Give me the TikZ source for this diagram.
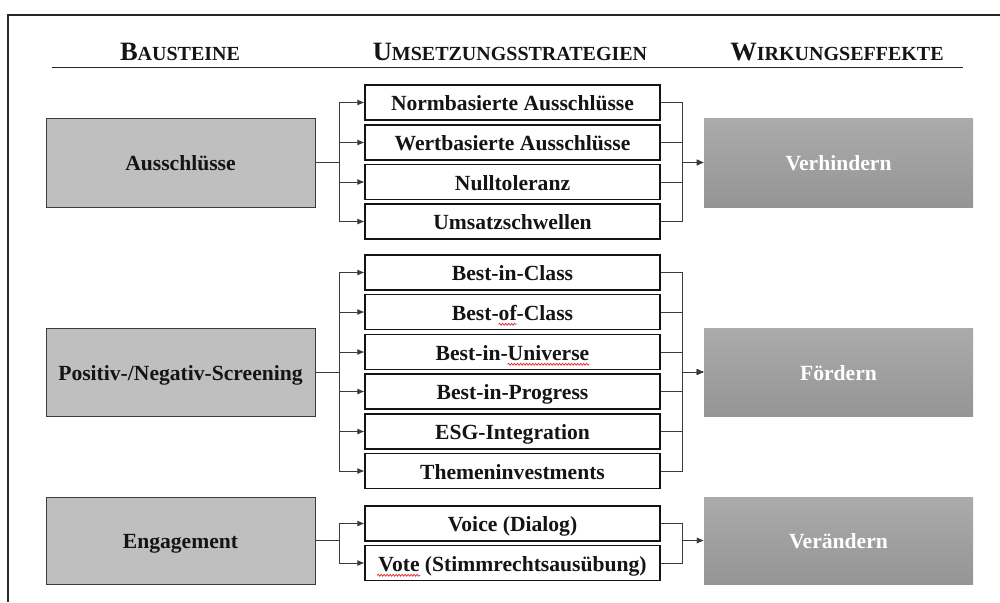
\documentclass[tikz,border=0pt]{standalone}
\usepackage{fontspec}
\setmainfont{Liberation Serif}
\usetikzlibrary{arrows.meta,calc,decorations.pathmorphing}
\definecolor{spellred}{HTML}{DD3333}
\definecolor{txt}{HTML}{141414}
\definecolor{lfill}{HTML}{BFBFBF}
\definecolor{ldraw}{HTML}{3C3C3C}
\definecolor{rtop}{HTML}{ABABAB}
\definecolor{rbot}{HTML}{959595}
\definecolor{conncol}{HTML}{3A3A3A}
\newcommand{\hdr}[2]{{\fontsize{26.5}{28}\selectfont #1}{\fontsize{20}{22}\selectfont #2}}
\newcommand{\itemfont}{\bfseries\fontsize{21.6}{24}\selectfont}
\tikzset{
  basefont/.style={font=\itemfont,text height=16.5pt,text depth=0pt},
  hdrnode/.style={anchor=base,inner sep=0pt,text=txt,font=\bfseries},
  lbox/.style={basefont,draw=ldraw,line width=1pt,fill=lfill,minimum width=269pt,minimum height=89pt,inner sep=0pt,text=txt},
  rbox/.style={basefont,top color=rtop,bottom color=rbot,draw=none,minimum width=269pt,minimum height=89pt,inner sep=0pt,text=white},
  ibox/.style={basefont,draw=txt,line width=1.1pt,fill=white,minimum width=295pt,minimum height=35pt,inner sep=0pt,text=txt},
  conn/.style={draw=conncol,line width=0.9pt},
  arr/.style={conn,-{Latex[length=7pt,width=6pt]}},
  frame/.style={draw=black!85,line width=1.8pt},
  squig/.style={draw=spellred,line width=0.8pt,decorate,decoration={snake,segment length=3pt,amplitude=0.9pt}},
}
\begin{document}
\begin{tikzpicture}[x=1pt,y=-1pt]
\useasboundingbox (0,0) rectangle (1000,602);
% frame
\draw[frame] (8,602) -- (8,15) -- (1000,15);
% headers
\node[hdrnode] (h1) at (180,60) {\hdr{B}{AUSTEINE}};
\node[hdrnode] (h2) at (510,60) {\hdr{U}{MSETZUNGSSTRATEGIEN}};
\node[hdrnode] (h3) at (837,60) {\hdr{W}{IRKUNGSEFFEKTE}};
\draw[draw=black!85,line width=1pt] (52,67) -- (963,67);
% left boxes
\node[lbox] (L1) at (180.5,162.5) {Ausschlüsse};
\node[lbox,minimum height=88pt] (L2) at (180.5,372) {Positiv-/Negativ-Screening};
\node[lbox,minimum height=87pt] (L3) at (180.5,540.5) {Engagement};
% right boxes
\node[rbox] (R1) at (838.5,162.5) {Verhindern};
\node[rbox,minimum height=88pt] (R2) at (838.5,372) {Fördern};
\node[rbox,minimum height=87pt] (R3) at (838.5,540.5) {Verändern};
% items group 1
\node[ibox] (A1) at (512.5,102.5) {Normbasierte Ausschlüsse};
\node[ibox] (A2) at (512.5,142.5) {Wertbasierte Ausschlüsse};
\node[ibox] (A3) at (512.5,182) {Nulltoleranz};
\node[ibox] (A4) at (512.5,221.5) {Umsatzschwellen};
% items group 2
\node[ibox] (B1) at (512.5,272.5) {Best-in-Class};
\node[ibox] (B2) at (512.5,312) {Best-of-Class};
\node[ibox] (B3) at (512.5,352) {Best-in-Universe};
\node[ibox] (B4) at (512.5,391.5) {Best-in-Progress};
\node[ibox] (B5) at (512.5,431.5) {ESG-Integration};
\node[ibox] (B6) at (512.5,471) {Themeninvestments};
% items group 3
\node[ibox] (C1) at (512.5,523.5) {Voice (Dialog)};
\node[ibox] (C2) at (512.5,563) {Vote (Stimmrechtsausübung)};
% spell-check marks under "of", "Universe", "Vote"
\draw[squig] ([xshift=-13.8pt,yshift=-4pt]B2.base) -- ++(18,0);
\draw[squig] ([xshift=-4.8pt,yshift=-4pt]B3.base) -- ++(81.6,0);
\draw[squig] ([xshift=-135.3pt,yshift=-4pt]C2.base) -- ++(43.2,0);
% left connectors
\foreach \i in {A1,A2,A3,A4} {\draw[arr] (L1.east) -- ++(24,0) |- (\i.west);}
\foreach \i in {B1,B2,B3,B4,B5,B6} {\draw[arr] (L2.east) -- ++(24,0) |- (\i.west);}
\foreach \i in {C1,C2} {\draw[arr] (L3.east) -- ++(24,0) |- (\i.west);}
% right connectors
\foreach \i in {A1,A2,A3,A4} {\draw[arr] (\i.east) -- ++(22,0) |- (R1.west);}
\foreach \i in {B1,B2,B3,B4,B5,B6} {\draw[arr] (\i.east) -- ++(22,0) |- (R2.west);}
\foreach \i in {C1,C2} {\draw[arr] (\i.east) -- ++(22,0) |- (R3.west);}
\end{tikzpicture}
\end{document}
